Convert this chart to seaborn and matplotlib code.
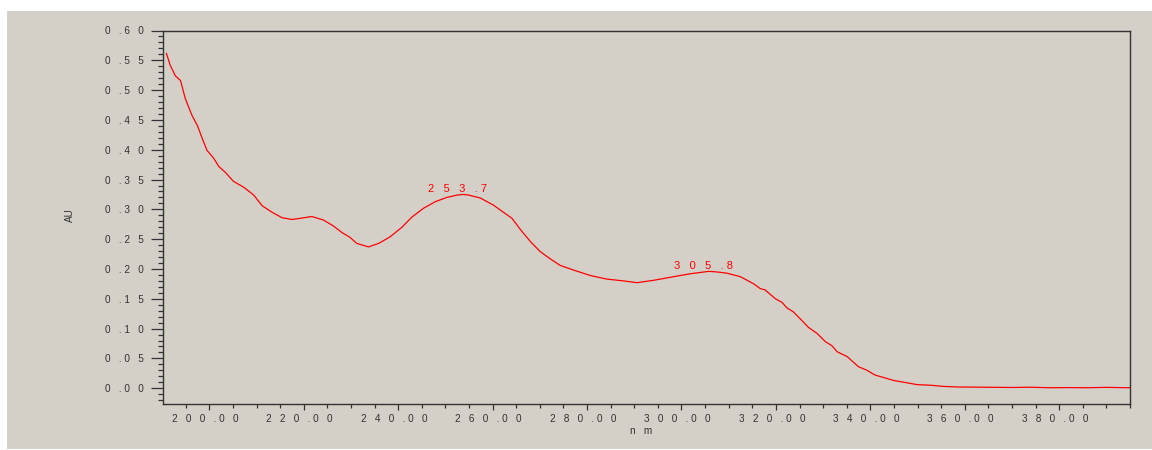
import matplotlib
matplotlib.use("Agg")
import matplotlib.pyplot as plt
from matplotlib.patches import Rectangle
from matplotlib.transforms import ScaledTranslation
from matplotlib.ticker import FixedLocator, MultipleLocator, FuncFormatter
import seaborn as sns
import pandas as pd

# UV absorbance spectrum (wavelength in nm, absorbance in AU)
wavelength = [190.9, 191.7, 192.8, 193.9, 194.9, 196.3, 197.5, 198.5, 199.5, 200.9,
              202.0, 203.4, 205.1, 207.3, 209.4, 211.2, 213.3, 215.4, 217.5, 219.3,
              221.7, 224.2, 226.3, 228.1, 229.8, 231.2, 233.7, 235.9, 238.3, 240.8,
              242.9, 245.4, 247.9, 250.3, 252.5, 253.7, 254.9, 257.4, 260.2, 262.3,
              264.1, 265.9, 268.0, 270.1, 272.2, 274.3, 277.2, 280.7, 284.2, 287.7,
              290.6, 294.1, 298.3, 301.9, 305.8, 307.5, 309.6, 312.5, 315.3, 316.7,
              317.7, 319.9, 321.3, 322.3, 323.7, 325.2, 326.9, 328.7, 330.5, 331.9,
              333.0, 335.1, 337.5, 339.3, 341.0, 342.8, 344.9, 347.4, 349.9, 352.7,
              355.5, 358.7, 362.0, 366.0, 370.0, 374.0, 378.0, 382.0, 386.0, 390.0,
              393.0, 395.0]
absorbance = [0.562, 0.542, 0.524, 0.516, 0.486, 0.458, 0.440, 0.419, 0.399, 0.386,
              0.372, 0.362, 0.347, 0.337, 0.324, 0.306, 0.295, 0.286, 0.283, 0.285,
              0.288, 0.282, 0.272, 0.261, 0.253, 0.243, 0.237, 0.243, 0.254, 0.270,
              0.287, 0.302, 0.313, 0.320, 0.324, 0.325, 0.324, 0.319, 0.307, 0.295,
              0.285, 0.266, 0.246, 0.229, 0.217, 0.206, 0.198, 0.189, 0.183, 0.180,
              0.177, 0.181, 0.187, 0.192, 0.196, 0.195, 0.193, 0.187, 0.175, 0.167,
              0.165, 0.150, 0.144, 0.135, 0.128, 0.116, 0.102, 0.092, 0.078, 0.071,
              0.061, 0.053, 0.036, 0.030, 0.022, 0.018, 0.013, 0.0096, 0.006, 0.005,
              0.003, 0.002, 0.0018, 0.0015, 0.0012, 0.0016, 0.0008, 0.0010, 0.0008, 0.0014,
              0.0010, 0.0008]

# Labelled absorbance maxima
peak_nm = [253.7, 305.8]
peak_labels = ["253.7", "305.8"]

x_major_ticks = [200, 220, 240, 260, 280, 300, 320, 340, 360, 380]
y_major_ticks = [0.00, 0.05, 0.10, 0.15, 0.20, 0.25, 0.30, 0.35, 0.40, 0.45, 0.50, 0.55, 0.60]

PANEL = "#D4D0C8"
INK = "#333333"
TRACE = "#FF0000"


def spaced(text):
    """Letter-spaced label text as used by the instrument software."""
    out = ""
    for i, ch in enumerate(text):
        out += ch
        if i < len(text) - 1:
            out += " " if ch == "." else "   "
    return out


sns.set_theme(style="ticks")
plt.rcParams["font.family"] = ["Liberation Sans", "DejaVu Sans"]

fig = plt.figure(figsize=(11.52, 4.5), dpi=100, facecolor="white")
fig.patches.append(Rectangle((7 / 1152, 1 / 450), 1 - 7 / 1152, 438 / 450,
                             transform=fig.transFigure, facecolor=PANEL,
                             edgecolor="none", zorder=-10))

ax = fig.add_axes([163.3 / 1152, 1 - 403.7 / 450, (1130 - 163.3) / 1152, (403.7 - 30.5) / 450])
ax.set_facecolor(PANEL)

df = pd.DataFrame({"nm": wavelength, "AU": absorbance})
sns.lineplot(data=df, x="nm", y="AU", ax=ax, color=TRACE, linewidth=0.9, estimator=None)

ax.set_xlim(190.25, 395.0)
ax.set_ylim(-0.026, 0.60)

# Peak annotations placed from the spectrum values at the labelled wavelengths
for nm, lab in zip(peak_nm, peak_labels):
    au = absorbance[wavelength.index(nm)]
    ax.annotate(spaced(lab), xy=(nm, au), xytext=(-4, 1.8), textcoords="offset points",
                ha="center", va="baseline", color=TRACE, fontsize=8)

ax.xaxis.set_major_locator(FixedLocator(x_major_ticks))
ax.xaxis.set_minor_locator(MultipleLocator(5))
ax.yaxis.set_major_locator(FixedLocator(y_major_ticks))
ax.yaxis.set_minor_locator(MultipleLocator(0.01))
ax.xaxis.set_major_formatter(FuncFormatter(lambda v, p: spaced(f"{v:.2f}")))
ax.yaxis.set_major_formatter(FuncFormatter(lambda v, p: spaced(f"{v:.2f}")))

ax.tick_params(axis="x", which="major", length=4.5, width=0.9, color=INK,
               labelsize=7.2, labelcolor=INK, pad=3)
ax.tick_params(axis="x", which="minor", length=2.8, width=0.9, color=INK)
ax.tick_params(axis="y", which="major", length=8.3, width=0.9, color=INK,
               labelsize=7.2, labelcolor=INK, pad=5.5)
ax.tick_params(axis="y", which="minor", length=3.6, width=0.9, color=INK)

# wavelength labels sit a little left of their ticks
shift = ScaledTranslation(-4 / 100, 0, fig.dpi_scale_trans)
for lbl in ax.get_xticklabels():
    lbl.set_transform(lbl.get_transform() + shift)

for side in ["left", "bottom", "top", "right"]:
    ax.spines[side].set_visible(True)
    ax.spines[side].set_color(INK)
    ax.spines[side].set_linewidth(1.0)

ax.set_xlabel(spaced("nm"), fontsize=7.2, color=INK)
ax.set_ylabel("AU", fontsize=7.2, color=INK)
ax.xaxis.set_label_coords(0.494, -0.061)
ax.yaxis.set_label_coords(-0.091, 0.5056)

fig.savefig("out.png", dpi=100, facecolor="white")
